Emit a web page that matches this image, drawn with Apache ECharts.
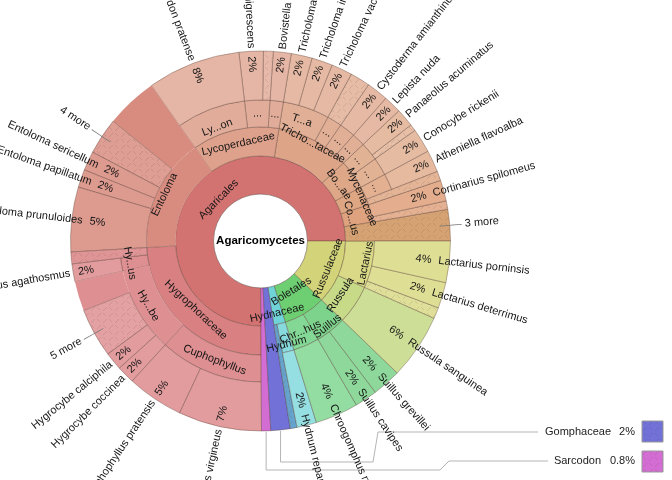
<!DOCTYPE html>
<html><head><meta charset="utf-8">
<script src="https://cdn.jsdelivr.net/npm/echarts@6/dist/echarts.min.js"></script>
<style>html,body{margin:0;padding:0;background:#fff}#c{width:672px;height:480px}</style>
</head><body><div id="c"></div>
<script>
// ---------------- data: values in % of reads, counter-clockwise from 3 o'clock ----------------
// '*' = hidden group (hatched), 'N more' = labelled hidden group, '=' = parent's own unassigned part
const agaricalesMore = [['3 more', 2.67]];
const cortinarius    = [['*', 0.72], ['Cortinarius spilomeus', 1.78]];
const mycenaHidden   = [['*', 0.79]];
const atheniella     = [['Atheniella flavoalba', 1.88]];
const conocybe       = [['Conocybe rickenii', 2.06]];
const panaeolus      = [['*', 0.56], ['Panaeolus acuminatus', 1.56]];
const lepista        = [['Lepista nuda', 1.52]];
const cystoderma     = [['Cystoderma amianthinum', 1.83]];
const otherTrich     = [['*', 1.70]];
const tricholoma     = [['Tricholoma vaccinum', 1.78], ['Tricholoma imbricatum', 1.78], ['Tricholoma terreum', 1.78]];
const bovistella     = [['Bovistella radicata', 1.52]];
const bovista        = [['*', 0.83], ['Bovista nigrescens', 2.06]];
const lycoperdon     = [['Lycoperdon pratense', 7.92]];
const entoloma       = [['=', 4.41], ['4 more', 3.11], ['Entoloma sericellum', 1.64], ['Entoloma papillatum', 1.53], ['Entoloma prunuloides', 5.50]];
const hygroHidden    = [['*', 1.00]];
const hygrophorus    = [['Hygrophorus agathosmus', 1.52]];
const hygrocybe      = [['=', 2.53], ['5 more', 4.18], ['Hygrocybe calciphila', 1.52], ['Hygrocybe coccinea', 1.52]];
const cuphophyllus   = [['Cuphophyllus pratensis', 4.81], ['Cuphophyllus virgineus', 7.08]];
const smallOrders    = [['Sarcodon', 0.78], ['Gomphaceae', 1.64]];
const hydnaHidden    = [['*', 0.58]];
const hydnum         = [['Hydnum repandum', 1.67]];
const chroogomphus   = [['Chroogomphus rutilus', 3.67]];
const suillus        = [['Suillus cavipes', 1.92], ['Suillus grevillei', 2.44]];
const russula        = [['Russula sanguinea', 5.55]];
const lactarius      = [['*', 0.95], ['Lactarius deterrimus', 2.20], ['Lactarius porninsis', 3.52]];

const tree = ['Agaricomycetes', [
  ['Agaricales', [
    ...agaricalesMore,
    ['Co...us', cortinarius],
    ['Mycenaceae', [...mycenaHidden, ['...', atheniella]]],
    ['Bo...ae', [['...', conocybe], ['...', panaeolus]]],
    ['Tricho...taceae', [['...', lepista], ['...', cystoderma], ['...', otherTrich], ['T...a', tricholoma]]],
    ['Lycoperdaceae', [['...', bovistella], ['...', bovista], ['Ly...on', lycoperdon]]],
    ['Entoloma', entoloma],
    ['Hygrophoraceae', [...hygroHidden, ['Hy...us', hygrophorus], ['Hy...be', hygrocybe], ['Cuphophyllus', cuphophyllus]]]
  ]],
  ...smallOrders,
  ['Hydnaceae', [...hydnaHidden, ['Hydnum', hydnum]]],
  ['Boletales', [['Chr...hus', chroogomphus], ['Suillus', suillus]]],
  ['Russulaceae', [['Russula', russula], ['Lactarius', lactarius]]]
]];

// ---------------- styles ----------------
const FONT = 'Liberation Sans, Arial, sans-serif';
const CX = 260.5, CY = 241, R = 190;
const BASE = {
  'Agaricales': '#d37371', 'Sarcodon': '#d36cd3', 'Gomphaceae': '#7171d7', 'Hydnaceae': '#70d3d7',
  'Boletales': '#6ece72', 'Russulaceae': '#d3d379',
  '3 more': '#d5a273', 'Co...us': '#dfa27f', 'Mycenaceae': '#dfa683', 'Bo...ae': '#dea787',
  'Tricho...taceae': '#dda488', 'Lycoperdaceae': '#dea18c', 'Entoloma': '#d88c80', 'Hygrophoraceae': '#d98082',
  'Hydnum': '#86d9dd', 'Chr...hus': '#84d896', 'Suillus': '#7ed38c', 'Russula': '#c6da88', 'Lactarius': '#d9d987'
};
const HIDDEN_BASE = { 'Hydnaceae': '#66a3cc' };
const LABEL_SHIFT = {
  'Agaricales': -7, 'Co...us': -6, 'Bo...ae': -3, 'Mycenaceae': 11, 'Tricho...taceae': 11, 'Entoloma': 7,
  'Hygrophoraceae': -5, 'Ly...on': -6, 'Russulaceae': 7, 'Boletales': -7, 'Hydnaceae': 8, 'Hydnum': 7,
  'Suillus': 9, 'Russula': -3, 'Lactarius': 8, 'Hy...us': 5, 'Hy...be': 2
};
const BORDER = 'rgba(85,55,45,0.45)';
const INVISIBLE = { color: 'rgba(0,0,0,0)', borderWidth: 0, borderColor: 'rgba(0,0,0,0)' };

function sumTree(n) { return typeof n[1] === 'number' ? n[1] : n[1].reduce((s, c) => s + sumTree(c), 0); }
const TOTAL = sumTree(tree);
function toRGB(h) { const n = parseInt(h.slice(1), 16); return [(n >> 16) & 255, (n >> 8) & 255, n & 255]; }
function lighten(c, t) { return c.map(v => Math.round(v + (255 - v) * t)); }
function css(c) { return 'rgb(' + c.join(',') + ')'; }
function isHidden(n) { return n === '*' || / more$/.test(n); }
function pctText(v) { const p = v / TOTAL * 100; return p < 1 ? p.toFixed(1) + '%' : Math.round(p) + '%'; }
function shiftPadding(s, mid) {
  if (!s) return {};
  const upper = mid > 0 && mid < 180;
  const up = upper ? s : -s;
  return { padding: up > 0 ? [0, 0, 2 * up, 0] : [-2 * up, 0, 0, 0] };
}
// hatched fill for hidden groups (Krona-style texture)
function hatch(rgb) {
  const cv = document.createElement('canvas');
  cv.width = 12; cv.height = 12;
  const g = cv.getContext('2d');
  g.fillStyle = css(rgb); g.fillRect(0, 0, 12, 12);
  g.strokeStyle = 'rgba(70,40,30,0.12)'; g.lineWidth = 1;
  g.beginPath();
  g.moveTo(1, 5); g.lineTo(5, 1);
  g.moveTo(7, 11); g.lineTo(11, 7);
  g.moveTo(7, 1); g.lineTo(10, 4);
  g.moveTo(1, 7); g.lineTo(4, 10);
  g.stroke();
  return { image: cv, repeat: 'repeat' };
}

function build(node, depth, parentRGB, parentName, start, mode) {
  const name = node[0], v = node[1];
  const leaf = typeof v === 'number';
  const value = sumTree(node);
  const mid = (start + value / 2) / TOTAL * 360;
  let rgb;
  if (depth === 1) rgb = [255, 255, 255];
  else if (BASE[name]) rgb = toRGB(BASE[name]);
  else if (name === '=') rgb = parentRGB;
  else if (isHidden(name)) rgb = HIDDEN_BASE[parentName] ? toRGB(HIDDEN_BASE[parentName]) : lighten(parentRGB, 0.16);
  else rgb = lighten(parentRGB, 0.12);

  const item = { name: name };
  if (leaf) item.value = v;
  else {
    let s = start;
    item.children = v.map(c => { const ch = build(c, depth + 1, rgb, name, s, mode); s += sumTree(c); return ch; });
  }
  const visible = mode === 'inner' ? (!leaf || depth === 5) : (mode === 'ext' ? (leaf && depth < 5) : false);
  if (!visible) item.itemStyle = INVISIBLE;
  else {
    const st = { color: isHidden(name) ? hatch(rgb) : css(rgb) };
    if (name === '=' || (!leaf && v.some(c => c[0] === '='))) st.borderWidth = 0;
    item.itemStyle = st;
  }
  let label = { show: false };
  if (mode === 'inner' && !leaf) {
    label = depth === 1 ? { show: true, padding: [0, 0, 0, 47] } : Object.assign({ show: true }, shiftPadding(LABEL_SHIFT[name] || 0, mid));
  }
  if (visible && leaf && depth >= 4 && !isHidden(name) && name !== '=') {
    label = { show: true, formatter: pctText(v) };
  }
  if (mode === 'names' && leaf && depth >= 3) {
    if (/ more$/.test(name)) {
      const left = mid > 90 && mid < 270;
      label = { show: true, distance: -10, formatter: left ? name + ' {l|——}' : '{l|——} ' + name };
    } else if (depth >= 4 && name !== '*' && name !== '=') {
      label = { show: true, formatter: name, distance: depth === 5 ? 3 : -11 };
    }
  }
  item.label = label;
  return item;
}

const common = {
  type: 'sunburst', center: [CX, CY], startAngle: 0, clockwise: false, sort: null,
  nodeClick: false, silent: true, animation: false, emphasis: { disabled: true },
  itemStyle: { borderColor: BORDER, borderWidth: 0.8 },
  label: { fontFamily: FONT, fontSize: 11, color: '#151515', rich: { l: { color: '#777', fontSize: 11, fontFamily: FONT } } }
};

const innerSeries = Object.assign({}, common, {
  data: [build(tree, 1, null, null, 0, 'inner')],
  levels: [
    {},
    { r0: 0, r: 47, itemStyle: { borderColor: 'rgba(0,0,0,0.25)', borderWidth: 0.8 }, label: { rotate: 0, fontWeight: 'bold', color: '#000', fontSize: 11.5 } },
    { r0: 47, r: 85, label: { rotate: 'tangential' } },
    { r0: 85, r: 114, label: { rotate: 'tangential' } },
    { r0: 114, r: 141, label: { rotate: 'tangential' } },
    { r0: 141, r: 190, label: { rotate: 'radial', align: 'right', distance: 5 } }
  ]
});
const extSeries = Object.assign({}, common, {
  data: [build(tree, 1, null, null, 0, 'ext')],
  levels: [
    {}, { r0: 0, r: 1 },
    { r0: 47, r: 190 }, { r0: 85, r: 190 },
    { r0: 114, r: 190, label: { rotate: 'radial', align: 'right', distance: 18 } },
    { r0: 141, r: 190 }
  ]
});
const namesSeries = Object.assign({}, common, {
  data: [build(tree, 1, null, null, 0, 'names')],
  label: Object.assign({}, common.label, { position: 'outside', rotate: 'radial' }),
  levels: [{}, { r0: 189, r: 190 }, { r0: 189, r: 190 }, { r0: 189, r: 190 }, { r0: 189, r: 190 }, { r0: 189, r: 190 }]
});

// callouts for the two thin orders
function startOf(name) { let s = sumTree(tree[1][0]); for (const o of smallOrders) { if (o[0] === name) return s; s += o[1]; } return s; }
function edge(name) {
  const o = smallOrders.find(x => x[0] === name);
  const a = (startOf(name) + o[1] / 2) / TOTAL * 2 * Math.PI;
  return [CX + R * Math.cos(a), CY - R * Math.sin(a)];
}
const gp = edge('Gomphaceae'), sp = edge('Sarcodon');
const lineStyle = { stroke: '#b5b5b5', lineWidth: 1, fill: null };
const txt = (x, y, t) => ({ type: 'text', x: x, y: y, style: { text: t, fill: '#222', font: '11px ' + FONT, textAlign: 'right', textVerticalAlign: 'middle' } });
const graphic = [
  { type: 'polyline', shape: { points: [[gp[0], gp[1] + 1], [gp[0], 462], [373, 462], [378, 432], [538, 432]] }, style: lineStyle },
  { type: 'polyline', shape: { points: [[sp[0], sp[1] + 1], [sp[0], 470], [440, 470], [449, 461], [548, 461]] }, style: lineStyle },
  txt(611, 432, 'Gomphaceae'), txt(635, 432, pctText(smallOrders[1][1])),
  txt(601, 461, 'Sarcodon'), txt(635, 461, pctText(smallOrders[0][1])),
  { type: 'rect', shape: { x: 642, y: 421, width: 21, height: 21 }, style: { fill: hatch(toRGB(BASE['Gomphaceae'])), stroke: '#999', lineWidth: 1 } },
  { type: 'rect', shape: { x: 642, y: 451, width: 21, height: 21 }, style: { fill: hatch(toRGB(BASE['Sarcodon'])), stroke: '#999', lineWidth: 1 } }
];

const chart = echarts.init(document.getElementById('c'), null, { renderer: 'canvas' });
chart.setOption({ backgroundColor: '#fff', animation: false, series: [innerSeries, extSeries, namesSeries], graphic: graphic });
</script></body></html>
